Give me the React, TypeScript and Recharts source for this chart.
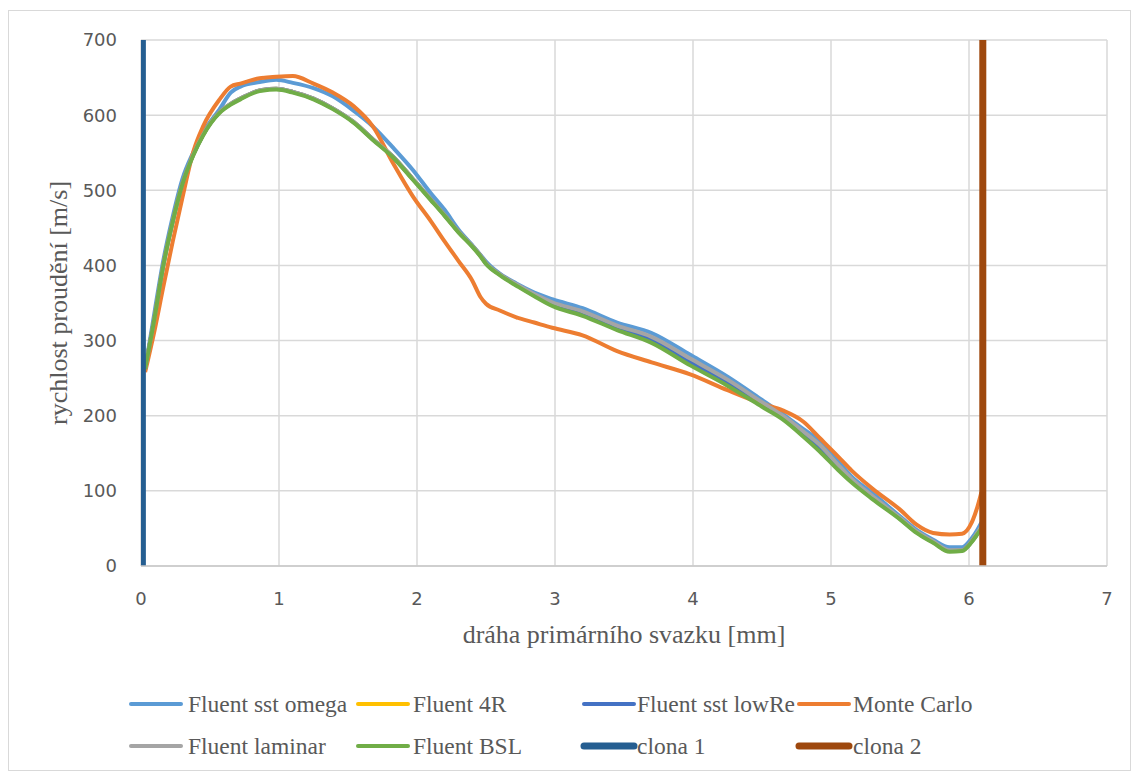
import React from 'react';
import { LineChart, Line, XAxis, YAxis, CartesianGrid, Legend } from 'recharts';

// distance along primary beam [mm]
const xValues = [
  0.03, 0.1, 0.16, 0.23, 0.3, 0.38, 0.45, 0.57, 0.65, 0.72,
  0.86, 0.98, 1.1, 1.25, 1.39, 1.54, 1.68, 1.83, 1.97, 2.1,
  2.2, 2.3, 2.4, 2.46, 2.5, 2.6, 2.72, 2.85, 2.98, 3.2,
  3.45, 3.7, 3.98, 4.25, 4.5, 4.65, 4.8, 4.92, 5.05, 5.15,
  5.3, 5.5, 5.62, 5.74, 5.86, 5.95, 6.02, 6.06, 6.09,
];

const sstOmega = [
  262, 340, 405, 465, 515, 551, 577, 608, 630, 638,
  644, 647, 643, 636, 625, 606, 585, 556, 527, 496,
  474, 448, 427, 414, 405, 389, 376, 364, 355, 343,
  324, 310, 281, 252, 221, 202, 182, 166, 140, 119,
  97, 66, 48, 35, 25, 25, 37, 48, 58,
];

const fluent4R = [
  263, 333, 399, 459, 509, 548, 574, 604, 615, 622,
  633, 635, 631, 622, 609, 591, 568, 544, 515, 488,
  467, 445, 426, 413, 403, 388, 374, 360, 349, 336,
  317, 301, 271, 244, 215, 198, 175, 156, 131, 114,
  91, 63, 45, 32, 20, 21, 33, 43, 51,
];

const sstLowRe = [
  263, 333, 399, 459, 509, 548, 574, 604, 615, 622,
  633, 635, 631, 622, 609, 591, 568, 544, 515, 488,
  467, 445, 426, 413, 403, 388, 374, 360, 349, 336,
  317, 301, 271, 244, 215, 198, 175, 156, 131, 114,
  91, 63, 45, 32, 20, 21, 33, 43, 51,
];

const monteCarlo = [
  258, 315, 370, 432, 490, 552, 585, 621, 638, 642,
  649, 651, 652, 642, 630, 612, 585, 535, 492, 459,
  432, 406, 380, 358, 349, 340, 331, 324, 317, 307,
  286, 271, 255, 234, 216, 207, 192, 170, 146, 127,
  103, 75, 55, 44, 42, 43, 58, 78, 98,
];

const laminar = [
  263, 333, 399, 459, 509, 548, 574, 604, 615, 622,
  633, 635, 631, 622, 609, 591, 568, 544, 515, 488,
  467, 445, 426, 413, 403, 388, 375, 362, 351, 339,
  320, 305, 276, 248, 218, 200, 179, 161, 135, 116,
  93, 64, 46, 33, 21, 21, 33, 44, 52,
];

const bsl = [
  262, 332, 398, 458, 508, 547, 573, 603, 614, 621,
  632, 634, 630, 621, 608, 590, 567, 543, 514, 487,
  466, 444, 425, 412, 402, 387, 373, 359, 346, 333,
  314, 297, 267, 240, 212, 195, 172, 152, 128, 111,
  89, 62, 44, 31, 19, 20, 32, 42, 50,
];

// apertures (vertical markers)
const clona1X = 0.01;
const clona2X = 6.1;
const clonaY = [0, 700];

const xTicks = [0, 1, 2, 3, 4, 5, 6, 7];
const yTicks = [0, 100, 200, 300, 400, 500, 600, 700];

const seriesNames = [
  'Fluent sst omega', 'Fluent 4R', 'Fluent sst lowRe', 'Monte Carlo',
  'Fluent laminar', 'Fluent BSL', 'clona 1', 'clona 2',
];

const data = xValues.map((x, i) => ({
  x,
  omega: sstOmega[i],
  r4: fluent4R[i],
  lowRe: sstLowRe[i],
  mc: monteCarlo[i],
  laminar: laminar[i],
  bsl: bsl[i],
}));

const clona1Data = clonaY.map((y) => ({ x: clona1X, y }));
const clona2Data = clonaY.map((y) => ({ x: clona2X, y }));

const TEXT = '#595959';
const SERIF = '"Liberation Serif", "Times New Roman", serif';
const SANS = '"DejaVu Sans", sans-serif';

const legendItems = [
  { name: seriesNames[0], color: '#5B9BD5', w: 4 },
  { name: seriesNames[1], color: '#FFC000', w: 4 },
  { name: seriesNames[2], color: '#4472C4', w: 4 },
  { name: seriesNames[3], color: '#ED7D31', w: 4 },
  { name: seriesNames[4], color: '#A5A5A5', w: 4 },
  { name: seriesNames[5], color: '#70AD47', w: 4 },
  { name: seriesNames[6], color: '#255E91', w: 7 },
  { name: seriesNames[7], color: '#9E480E', w: 7 },
];

const colStarts = [120, 347, 573, 788];
const colTextGap = [59, 57, 55, 56];
const rowLineY = [33, 75];
const rowTextY = [41, 83];

const LegendContent = () => (
  <svg width={1121} height={100} style={{ position: 'absolute', left: 0, top: 0, overflow: 'visible' }}>
    {legendItems.map((it, i) => {
      const col = i % 4;
      const row = Math.floor(i / 4);
      const x0 = colStarts[col];
      return (
        <g key={it.name}>
          <line
            x1={x0 + 2}
            x2={x0 + 52}
            y1={rowLineY[row]}
            y2={rowLineY[row]}
            stroke={it.color}
            strokeWidth={it.w}
            strokeLinecap="round"
          />
          <text x={x0 + colTextGap[col]} y={rowTextY[row]} fill={TEXT} fontFamily={SERIF} fontSize={23.5}>
            {it.name}
          </text>
        </g>
      );
    })}
  </svg>
);

const XTitle = (p: any) => {
  const vb = p && p.viewBox && typeof p.viewBox.width === 'number' ? p.viewBox : { x: 132, y: 555, width: 966, height: 100 };
  return (
    <text x={vb.x + vb.width / 2} y={vb.y + 77} textAnchor="middle" fill={TEXT} fontFamily={SERIF} fontSize={26}>
      dráha primárního svazku [mm]
    </text>
  );
};

const YTitle = (p: any) => {
  const vb = p && p.viewBox && typeof p.viewBox.height === 'number' ? p.viewBox : { x: 0, y: 29, width: 132, height: 526 };
  const cx = vb.x + 58;
  const cy = vb.y + vb.height / 2;
  return (
    <text
      x={cx}
      y={cy}
      transform={`rotate(-90 ${cx} ${cy})`}
      textAnchor="middle"
      fill={TEXT}
      fontFamily={SERIF}
      fontSize={26}
    >
      rychlost proudění [m/s]
    </text>
  );
};

export default function App() {
  return (
    <div
      style={{
        position: 'fixed',
        left: 8,
        top: 10,
        width: 1121,
        height: 759,
        border: '1px solid #d9d9d9',
        background: '#fff',
      }}
    >
      <LineChart width={1121} height={759} data={data} margin={{ top: 29, right: 23, left: 0, bottom: 104 }}>
        <CartesianGrid stroke="#d9d9d9" strokeWidth={1.5} />
        <XAxis
          type="number"
          dataKey="x"
          domain={[0, 7]}
          ticks={xTicks}
          allowDataOverflow
          height={100}
          tickLine={false}
          tickSize={0}
          tickMargin={26}
          axisLine={{ stroke: '#c8c8c8', strokeWidth: 1.5 }}
          tick={{ fill: TEXT, fontSize: 18, fontFamily: SANS }}
          label={<XTitle />}
        />
        <YAxis
          type="number"
          domain={[0, 700]}
          ticks={yTicks}
          allowDataOverflow
          width={132}
          tickLine={false}
          tickSize={0}
          tickMargin={24}
          axisLine={false}
          tick={{ fill: TEXT, fontSize: 18, fontFamily: SANS }}
          label={<YTitle />}
        />
        <Legend
          layout="horizontal"
          verticalAlign="middle"
          align="center"
          wrapperStyle={{ left: 0, top: 660, width: 1121, height: 100 }}
          content={<LegendContent />}
        />
        <Line type="monotone" dataKey="omega" name={seriesNames[0]} stroke="#5B9BD5" strokeWidth={4} dot={false} activeDot={false} isAnimationActive={false} />
        <Line type="monotone" dataKey="r4" name={seriesNames[1]} stroke="#FFC000" strokeWidth={4} dot={false} activeDot={false} isAnimationActive={false} />
        <Line type="monotone" dataKey="lowRe" name={seriesNames[2]} stroke="#4472C4" strokeWidth={4} dot={false} activeDot={false} isAnimationActive={false} />
        <Line type="monotone" dataKey="mc" name={seriesNames[3]} stroke="#ED7D31" strokeWidth={4} dot={false} activeDot={false} isAnimationActive={false} />
        <Line type="monotone" dataKey="laminar" name={seriesNames[4]} stroke="#A5A5A5" strokeWidth={4} dot={false} activeDot={false} isAnimationActive={false} />
        <Line type="monotone" dataKey="bsl" name={seriesNames[5]} stroke="#70AD47" strokeWidth={4} dot={false} activeDot={false} isAnimationActive={false} />
        <Line data={clona1Data} type="linear" dataKey="y" name={seriesNames[6]} stroke="#255E91" strokeWidth={7} dot={false} activeDot={false} isAnimationActive={false} />
        <Line data={clona2Data} type="linear" dataKey="y" name={seriesNames[7]} stroke="#9E480E" strokeWidth={7} dot={false} activeDot={false} isAnimationActive={false} />
      </LineChart>
    </div>
  );
}
